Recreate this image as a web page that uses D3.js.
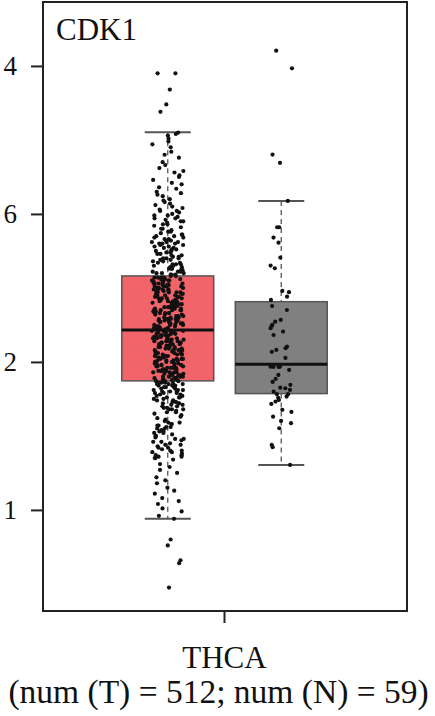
<!DOCTYPE html>
<html><head><meta charset="utf-8">
<script src="https://cdn.jsdelivr.net/npm/d3@7"></script>
<style>body{margin:0;background:#fff}svg{display:block}</style>
</head><body>
<script>
const title = "CDK1";
const groups = ["T", "N"];
const groupColors = ["#f0646a", "#808080"];
const xLabel = "THCA";
const xSubLabel = "(num (T) = 512; num (N) = 59)";
const tickValues = [4, 3, 2, 1];
const tickLabels = ["4", "6", "2", "1"];
// box stats: [whiskerLow, q1, median, q3, whiskerHigh]
const statsT = [0.941, 1.872, 2.216, 2.581, 3.552];
const statsN = [1.304, 1.786, 1.984, 2.407, 3.088];

const valuesT = [
3.95,3.95,3.84,3.74,3.69,3.55,
3.54,3.53,3.51,3.49,3.47,3.45,3.42,3.40,3.38,3.35,3.33,3.31,
3.29,3.28,3.26,3.25,3.23,3.21,3.20,3.18,3.17,3.15,3.14,3.13,3.12,3.10,3.09,3.08,3.07,3.06,3.05,3.04,3.03,3.02,3.02,3.01,3.00,
2.99,2.99,2.98,2.97,2.97,2.96,2.95,2.95,2.94,2.93,2.93,2.92,2.91,2.90,2.90,2.89,2.88,2.88,2.87,2.86,2.86,2.85,2.85,2.84,2.84,2.83,2.83,2.82,2.82,2.81,2.81,2.80,2.80,2.80,2.81,
2.79,2.79,2.78,2.78,2.77,2.77,2.76,2.76,2.75,2.75,2.74,2.74,2.73,2.73,2.72,2.72,2.71,2.71,2.70,2.70,2.70,2.69,2.69,2.68,2.68,2.67,2.67,2.66,2.66,2.66,2.65,2.65,2.64,2.64,2.63,2.63,2.63,2.62,2.62,2.61,2.61,2.61,2.60,2.60,2.60,2.59,2.59,2.59,2.58,2.58,
2.57,2.57,2.57,2.57,2.56,2.56,2.56,2.55,2.55,2.55,2.55,2.54,2.54,2.54,2.53,2.53,2.53,2.53,2.52,2.52,2.52,2.51,2.51,2.51,2.51,2.50,2.50,2.50,
2.49,2.49,2.49,2.49,2.48,2.48,2.48,2.47,2.47,2.47,2.47,2.46,2.46,2.46,2.45,2.45,2.45,2.45,2.44,2.44,2.44,2.43,2.43,2.43,2.43,2.42,2.42,2.42,
2.41,2.41,2.41,2.41,2.40,2.40,2.40,2.39,2.39,2.39,2.39,2.38,2.38,2.38,2.37,2.37,2.37,2.37,2.36,2.36,2.36,2.35,2.35,2.35,2.35,2.35,
2.34,2.34,2.34,2.33,2.33,2.33,2.33,2.32,2.32,2.32,2.31,2.31,2.31,2.31,2.30,2.30,2.30,2.29,2.29,2.29,2.29,2.29,
2.28,2.28,2.28,2.27,2.27,2.27,2.27,2.26,2.26,2.26,2.25,2.25,2.25,2.25,2.24,2.24,2.24,2.23,2.23,2.23,2.23,2.22,2.22,2.22,
2.21,2.21,2.21,2.21,2.20,2.20,2.20,2.20,2.19,2.19,2.19,2.18,2.18,2.18,2.18,2.17,2.17,2.17,2.17,2.16,2.16,2.16,2.16,2.15,2.15,2.15,
2.14,2.14,2.14,2.14,2.13,2.13,2.13,2.13,2.12,2.12,2.12,2.12,2.11,2.11,2.11,2.10,2.10,2.10,2.10,2.09,2.09,2.09,2.09,2.08,2.08,2.08,2.08,2.07,2.07,2.07,
2.06,2.06,2.06,2.06,2.05,2.05,2.05,2.05,2.04,2.04,2.04,2.04,2.03,2.03,2.03,2.02,2.02,2.02,2.02,2.01,2.01,2.01,2.01,2.00,2.00,2.00,2.00,
1.99,1.99,1.99,1.98,1.98,1.98,1.98,1.97,1.97,1.97,1.97,1.96,1.96,1.96,1.96,1.95,1.95,1.95,1.94,1.94,1.94,1.94,1.93,1.93,1.93,1.93,
1.92,1.92,1.92,1.92,1.91,1.91,1.91,1.90,1.90,1.90,1.90,1.89,1.89,1.89,1.89,1.88,1.88,1.88,1.88,
1.87,1.87,1.87,1.87,1.86,1.86,1.86,1.85,1.85,1.85,1.85,1.84,1.84,1.84,1.83,1.83,1.83,1.83,1.82,1.82,1.81,1.81,1.81,1.80,1.80,1.80,
1.79,1.79,1.79,1.78,1.78,1.77,1.77,1.76,1.76,1.76,1.75,1.75,1.74,1.74,1.73,1.73,1.72,1.72,1.72,1.71,1.71,1.70,1.70,1.69,1.69,
1.68,1.68,1.68,1.67,1.66,1.66,1.65,1.64,1.63,1.62,1.61,1.60,
1.59,1.59,1.58,1.58,1.57,1.57,1.56,1.56,1.55,1.55,1.54,1.53,1.53,1.52,1.52,1.51,1.50,1.50,1.49,1.48,1.48,
1.47,1.46,1.46,1.45,1.44,1.44,1.43,1.42,1.42,1.41,1.40,1.40,1.39,1.39,1.38,1.37,1.37,1.36,1.36,1.35,1.35,
1.34,1.31,1.29,1.27,1.25,1.22,1.20,1.18,1.15,1.13,1.11,
1.08,1.06,1.04,1.01,0.99,0.96,0.94,
0.80,0.76,0.66,0.64,0.475
];

const valuesN = [
4.103,3.984,3.401,3.345,3.088,2.910,2.910,2.840,2.806,2.705,2.651,2.633,
2.480,2.471,2.441,2.419,2.378,2.351,2.284,2.272,2.250,2.243,2.228,2.205,2.182,
2.103,2.093,2.081,2.068,2.027,1.968,1.968,1.966,1.966,1.946,1.912,1.885,1.865,
1.845,1.826,1.822,1.811,1.799,1.782,1.782,1.766,1.757,1.743,1.732,1.716,
1.676,1.662,1.630,1.601,1.586,1.552,1.439,1.424,1.304
];

const W = 435, H = 716;
const margin = {top: 2, right: 28, bottom: 105, left: 43};
const iw = W - margin.left - margin.right, ih = H - margin.top - margin.bottom;
const font = "'Liberation Serif','DejaVu Serif',serif";

const svg = d3.select("body").append("svg").attr("width", W).attr("height", H);
const g = svg.append("g").attr("transform", `translate(${margin.left},${margin.top})`);

const y = d3.scaleLinear().domain([0.317, 4.432]).range([ih, 0]);
const x = d3.scaleBand().domain(groups).range([68, 295]);
const bw = x.bandwidth() * 0.81;
const jitter = i => { const s = Math.sin(i * 12.9898 + 78.233) * 43758.5453; return (s - Math.floor(s)) * 2 - 1; };

const yAxis = g.append("g").call(d3.axisLeft(y).tickValues(tickValues)
  .tickFormat((d, i) => tickLabels[i]).tickSize(12).tickPadding(14));
yAxis.select(".domain").remove();
yAxis.selectAll(".tick line").attr("stroke", "#222").attr("stroke-width", 2);
yAxis.selectAll(".tick text").attr("font-family", font).attr("font-size", 27).attr("fill", "#111");

const midX = (x("T") + x("N") + x.bandwidth()) / 2;
g.append("line").attr("x1", midX).attr("x2", midX)
  .attr("y1", ih).attr("y2", ih + 12).attr("stroke", "#222").attr("stroke-width", 2);

const data = [{k: "T", s: statsT, v: valuesT, c: groupColors[0], j: 16},
              {k: "N", s: statsN, v: valuesN, c: groupColors[1], j: 11}];

data.forEach((d, gi) => {
  const cx = x(d.k) + x.bandwidth() / 2;
  const [lo, q1, md, q3, hi] = d.s;
  const wg = g.append("g");
  wg.append("line").attr("x1", cx).attr("x2", cx).attr("y1", y(hi)).attr("y2", y(q3))
    .attr("stroke", "#555").attr("stroke-width", 1.3).attr("stroke-dasharray", "5,4");
  wg.append("line").attr("x1", cx).attr("x2", cx).attr("y1", y(q1)).attr("y2", y(lo))
    .attr("stroke", "#555").attr("stroke-width", 1.3).attr("stroke-dasharray", "5,4");
  [lo, hi].forEach(v => wg.append("line").attr("x1", cx - 23).attr("x2", cx + 23)
    .attr("y1", y(v)).attr("y2", y(v)).attr("stroke", "#555").attr("stroke-width", 2));
  g.append("rect").attr("x", cx - bw / 2).attr("width", bw).attr("y", y(q3)).attr("height", y(q1) - y(q3))
    .attr("fill", d.c).attr("stroke", "#555").attr("stroke-width", 1.5);
  g.append("line").attr("x1", cx - bw / 2).attr("x2", cx + bw / 2).attr("y1", y(md)).attr("y2", y(md))
    .attr("stroke", "#111").attr("stroke-width", 3);
  g.append("g").selectAll("circle").data(d.v).join("circle")
    .attr("cx", (v, i) => cx + jitter(i + gi * 1000) * d.j)
    .attr("cy", v => y(v)).attr("r", 2.1).attr("fill", "#111");
});

g.append("rect").attr("x", 0).attr("y", 0).attr("width", iw).attr("height", ih)
  .attr("fill", "none").attr("stroke", "#222").attr("stroke-width", 2);

g.append("text").attr("x", 13).attr("y", 38).attr("font-family", font).attr("font-size", 31)
  .attr("fill", "#111").text(title);

svg.append("text").attr("x", margin.left + midX).attr("y", 668).attr("text-anchor", "middle")
  .attr("font-family", font).attr("font-size", 31).attr("fill", "#111").text(xLabel);
svg.append("text").attr("x", W / 2 + 1).attr("y", 703).attr("text-anchor", "middle")
  .attr("font-family", font).attr("font-size", 33.5).attr("fill", "#111").text(xSubLabel);
</script>
</body></html>
